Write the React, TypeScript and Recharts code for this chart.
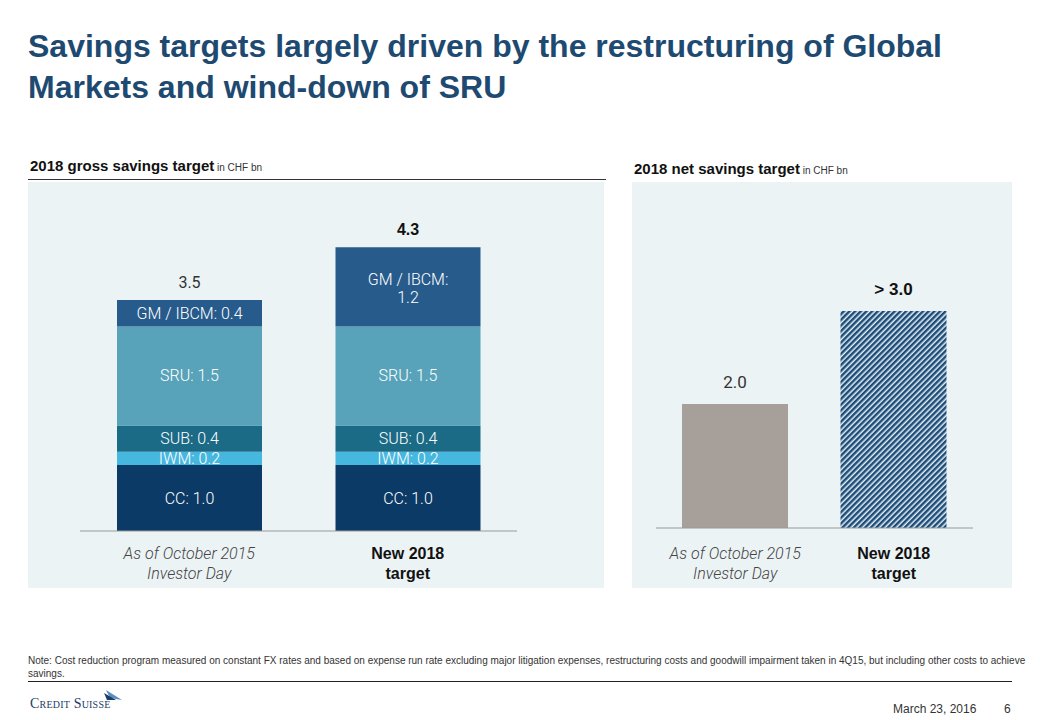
import React from "react";
import { BarChart, Bar, XAxis, YAxis, LabelList, Cell } from "recharts";

// gross savings (stacked), CHF bn
const grossCategories = ["As of October 2015|Investor Day", "New 2018|target"];
const ccValues = [1.0, 1.0];
const iwmValues = [0.2, 0.2];
const subValues = [0.4, 0.4];
const sruValues = [1.5, 1.5];
const gmValues = [0.4, 1.2];
const grossTotals = ["3.5", "4.3"];

// net savings, CHF bn
const netCategories = ["As of October 2015|Investor Day", "New 2018|target"];
const netValues = [2.0, 3.5];
const netLabels = ["2.0", "> 3.0"];

const FONT = "'Liberation Sans', Arial, sans-serif";
const LIGHT = "Roboto, 'Liberation Sans', sans-serif";

const grossData = grossCategories.map((name, i) => ({
  name,
  cc: ccValues[i],
  iwm: iwmValues[i],
  sub: subValues[i],
  sru: sruValues[i],
  gm: gmValues[i],
  total: grossTotals[i],
}));

const netData = netCategories.map((name, i) => ({
  name,
  value: netValues[i],
  label: netLabels[i],
}));

const segLabel = (prefix: string) => (props: any) => {
  const { x, y, width, height, value } = props;
  const cx = Number(x) + Number(width) / 2;
  const cy = Number(y) + Number(height) / 2;
  const text = `${prefix}: ${Number(value).toFixed(1)}`;
  if (Number(height) > 50 && prefix.length > 4) {
    return (
      <text x={cx} textAnchor="middle" fill="#fff" fontFamily={LIGHT} fontWeight={300} fontSize={16}>
        <tspan x={cx} y={cy - 2}>{`${prefix}:`}</tspan>
        <tspan x={cx} y={cy + 16}>{Number(value).toFixed(1)}</tspan>
      </text>
    );
  }
  return (
    <text x={cx} y={cy + 5.5} textAnchor="middle" fill="#fff" fontFamily={LIGHT} fontWeight={300} fontSize={16}>
      {text}
    </text>
  );
};

const topLabel = (offset: number, size: number) => (props: any) => {
  const { x, y, width, value, index } = props;
  const bold = index === 1;
  return (
    <text
      x={Number(x) + Number(width) / 2}
      y={Number(y) - offset}
      textAnchor="middle"
      fill={bold ? "#111" : "#333"}
      fontFamily={bold ? FONT : LIGHT}
      fontWeight={bold ? 700 : 400}
      fontSize={size}
    >
      {value}
    </text>
  );
};

const CatTick = (props: any) => {
  const { x, y, payload, index, dy0 = 27 } = props;
  const lines = String(payload.value).split("|");
  const bold = index === 1;
  return (
    <g>
      {lines.map((l, i) => (
        <text
          key={i}
          x={x}
          y={y + dy0 + i * 20}
          textAnchor="middle"
          fill={bold ? "#111" : "#444"}
          fontFamily={bold ? FONT : LIGHT}
          fontStyle={bold ? "normal" : "italic"}
          fontWeight={bold ? 700 : 300}
          fontSize={16}
        >
          {l}
        </text>
      ))}
    </g>
  );
};

const Header = ({ left, width, top, title }: any) => (
  <div style={{ position: "absolute", left, top, width, borderBottom: "1.5px solid #333", fontFamily: FONT }}>
    <div style={{ paddingLeft: 2, paddingBottom: 2, fontSize: 15, color: "#111", lineHeight: "18px" }}>
      <b>{title}</b>
      <span style={{ fontSize: 10, color: "#333" }}> in CHF bn</span>
    </div>
  </div>
);

export default function App() {
  return (
    <div style={{ position: "absolute", left: 0, top: 0, width: 1040, height: 720, background: "#fff", fontFamily: FONT }}>
      <div
        style={{
          position: "absolute",
          left: 28,
          top: 26,
          width: 1000,
          fontSize: 32,
          fontWeight: 700,
          lineHeight: "41px",
          color: "#1e4a72",
          whiteSpace: "nowrap",
        }}
      >
        Savings targets largely driven by the restructuring of Global
        <br />
        Markets and wind-down of SRU
      </div>

      <Header left={28} width={578} top={157} title="2018 gross savings target" />
      <Header left={632} width={380} top={160} title="2018 net savings target" />

      <div style={{ position: "absolute", left: 28, top: 182, width: 576, height: 406, background: "#ecf3f5" }}>
        <BarChart width={578} height={406} data={grossData} margin={{ top: 19, right: 89, bottom: 0, left: 52 }}>
          <YAxis hide domain={[0, 5]} />
          <XAxis
            dataKey="name"
            height={57}
            interval={0}
            tickLine={false}
            tickSize={0}
            tickMargin={0}
            axisLine={{ stroke: "#9a9a9a" }}
            tick={<CatTick dy0={28} />}
          />
          <Bar dataKey="cc" stackId="a" fill="#0c3a66" barSize={145} isAnimationActive={false}>
            <LabelList dataKey="cc" content={segLabel("CC")} />
          </Bar>
          <Bar dataKey="iwm" stackId="a" fill="#46b7de" barSize={145} isAnimationActive={false}>
            <LabelList dataKey="iwm" content={segLabel("IWM")} />
          </Bar>
          <Bar dataKey="sub" stackId="a" fill="#1b6a86" barSize={145} isAnimationActive={false}>
            <LabelList dataKey="sub" content={segLabel("SUB")} />
          </Bar>
          <Bar dataKey="sru" stackId="a" fill="#58a3b9" barSize={145} isAnimationActive={false}>
            <LabelList dataKey="sru" content={segLabel("SRU")} />
          </Bar>
          <Bar dataKey="gm" stackId="a" fill="#275b8b" barSize={145} isAnimationActive={false}>
            <LabelList dataKey="gm" content={segLabel("GM / IBCM")} />
            <LabelList dataKey="total" content={topLabel(12, 16)} />
          </Bar>
        </BarChart>
      </div>

      <div style={{ position: "absolute", left: 632, top: 182, width: 380, height: 406, background: "#ecf3f5" }}>
        <BarChart width={380} height={406} data={netData} margin={{ top: 36, right: 39, bottom: 0, left: 24 }}>
          <defs>
            <pattern id="hatch" width="4" height="4" patternUnits="userSpaceOnUse" patternTransform="rotate(45)">
              <rect width="4" height="4" fill="#e6f1f6" />
              <rect width="2.5" height="4" fill="#1d4c78" />
            </pattern>
          </defs>
          <YAxis hide domain={[0, 5]} />
          <XAxis
            dataKey="name"
            height={60}
            interval={0}
            tickLine={false}
            tickSize={0}
            tickMargin={0}
            axisLine={{ stroke: "#9a9a9a" }}
            tick={<CatTick dy0={31} />}
          />
          <Bar dataKey="value" barSize={106} isAnimationActive={false}>
            {netData.map((d, i) => (
              <Cell key={i} fill={i === 0 ? "#a69f9a" : "url(#hatch)"} />
            ))}
            <LabelList dataKey="label" content={topLabel(16, 17)} />
          </Bar>
        </BarChart>
      </div>

      <div
        style={{
          position: "absolute",
          left: 28,
          top: 654,
          width: 1000,
          fontSize: 10,
          lineHeight: "13px",
          color: "#333",
          whiteSpace: "nowrap",
        }}
      >
        Note: Cost reduction program measured on constant FX rates and based on expense run rate excluding major litigation expenses, restructuring costs and goodwill impairment taken in 4Q15, but including other costs to achieve
        <br />
        savings.
      </div>
      <div style={{ position: "absolute", left: 28, top: 681, width: 984, borderTop: "1.5px solid #222" }} />

      <div style={{ position: "absolute", left: 30, top: 694 }}>
        <span
          style={{
            fontFamily: "'Liberation Serif', 'DejaVu Serif', serif",
            fontVariant: "small-caps",
            fontSize: 14,
            color: "#1b3c68",
            letterSpacing: 0.2,
          }}
        >
          Credit Suisse
        </span>
        <svg width="24" height="16" style={{ position: "absolute", left: 72, top: -6 }}>
          <polygon points="4,2 20,12 8,10" fill="#5a8fc0" />
          <polygon points="2,5 14,12 5,12" fill="#1b3c68" />
        </svg>
      </div>

      <div style={{ position: "absolute", left: 893, top: 702, fontSize: 12, color: "#333" }}>March 23, 2016</div>
      <div style={{ position: "absolute", left: 1004, top: 702, fontSize: 12, color: "#333" }}>6</div>
    </div>
  );
}
